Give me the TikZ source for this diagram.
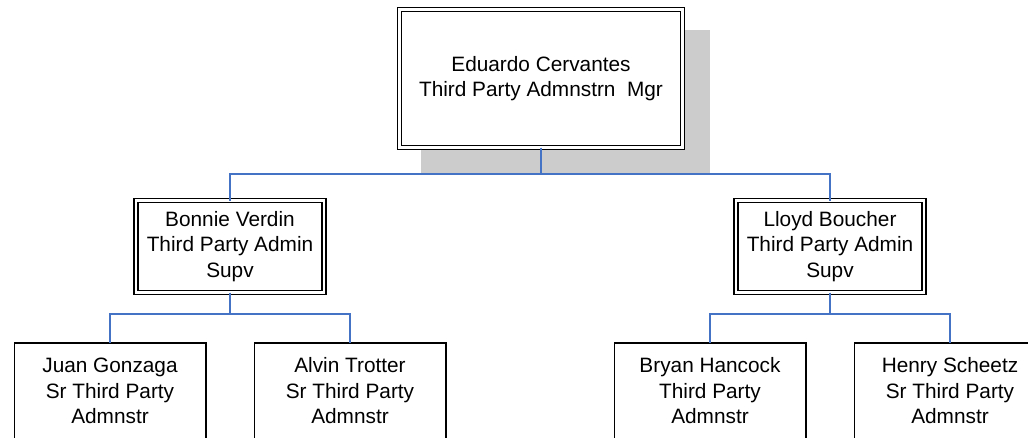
\documentclass[tikz,border=0pt]{standalone}
\usepackage{fontspec}
\setmainfont{Liberation Sans}
\definecolor{connblue}{RGB}{68,114,196}
\definecolor{shadowgray}{RGB}{204,204,204}
\begin{document}
\begin{tikzpicture}[x=1pt,y=-1pt,
  txt/.style={align=center,font=\fontsize{20.8}{25.5}\selectfont,inner sep=0pt,outer sep=0pt},
  mgrbox/.style={txt,draw,double,double distance=2.4pt,line width=1.4pt,fill=white},
  staffbox/.style={txt,draw,line width=1.5pt,fill=white,minimum width=191.5pt,minimum height=96pt,anchor=north},
  conn/.style={draw=connblue,line width=1.8pt}
]
\clip (0,0) rectangle (1028,437);
\fill[white] (0,0) rectangle (1028,437);
% shadow of the top box
\fill[shadowgray] (421,30) rectangle (710,173);
% nodes
\node[mgrbox,minimum width=283pt,minimum height=138pt] (ceo) at (541,78.5)
  {Eduardo Cervantes\\Third Party Admnstrn\ \ Mgr};
\node[mgrbox,minimum width=188pt,minimum height=92pt] (bonnie) at (230,246.5)
  {Bonnie Verdin\\Third Party Admin\\Supv};
\node[mgrbox,minimum width=188pt,minimum height=92pt] (lloyd) at (830,246.5)
  {Lloyd Boucher\\Third Party Admin\\Supv};
\node[staffbox] (juan) at (110,343) {Juan Gonzaga\\Sr Third Party\\Admnstr};
\node[staffbox] (alvin) at (350,343) {Alvin Trotter\\Sr Third Party\\Admnstr};
\node[staffbox] (bryan) at (710,343) {Bryan Hancock\\Third Party\\Admnstr};
\node[staffbox] (henry) at (950,343) {Henry Scheetz\\Sr Third Party\\Admnstr};
% junctions
\coordinate (j0) at (541,174);
\coordinate (j1) at (230,314);
\coordinate (j2) at (830,314);
% connectors
\draw[conn] (ceo.south) -- (j0);
\draw[conn] (j0) -| (bonnie.north);
\draw[conn] (j0) -| (lloyd.north);
\draw[conn] (bonnie.south) -- (j1);
\draw[conn] (j1) -| (juan.north);
\draw[conn] (j1) -| (alvin.north);
\draw[conn] (lloyd.south) -- (j2);
\draw[conn] (j2) -| (bryan.north);
\draw[conn] (j2) -| (henry.north);
\end{tikzpicture}
\end{document}
